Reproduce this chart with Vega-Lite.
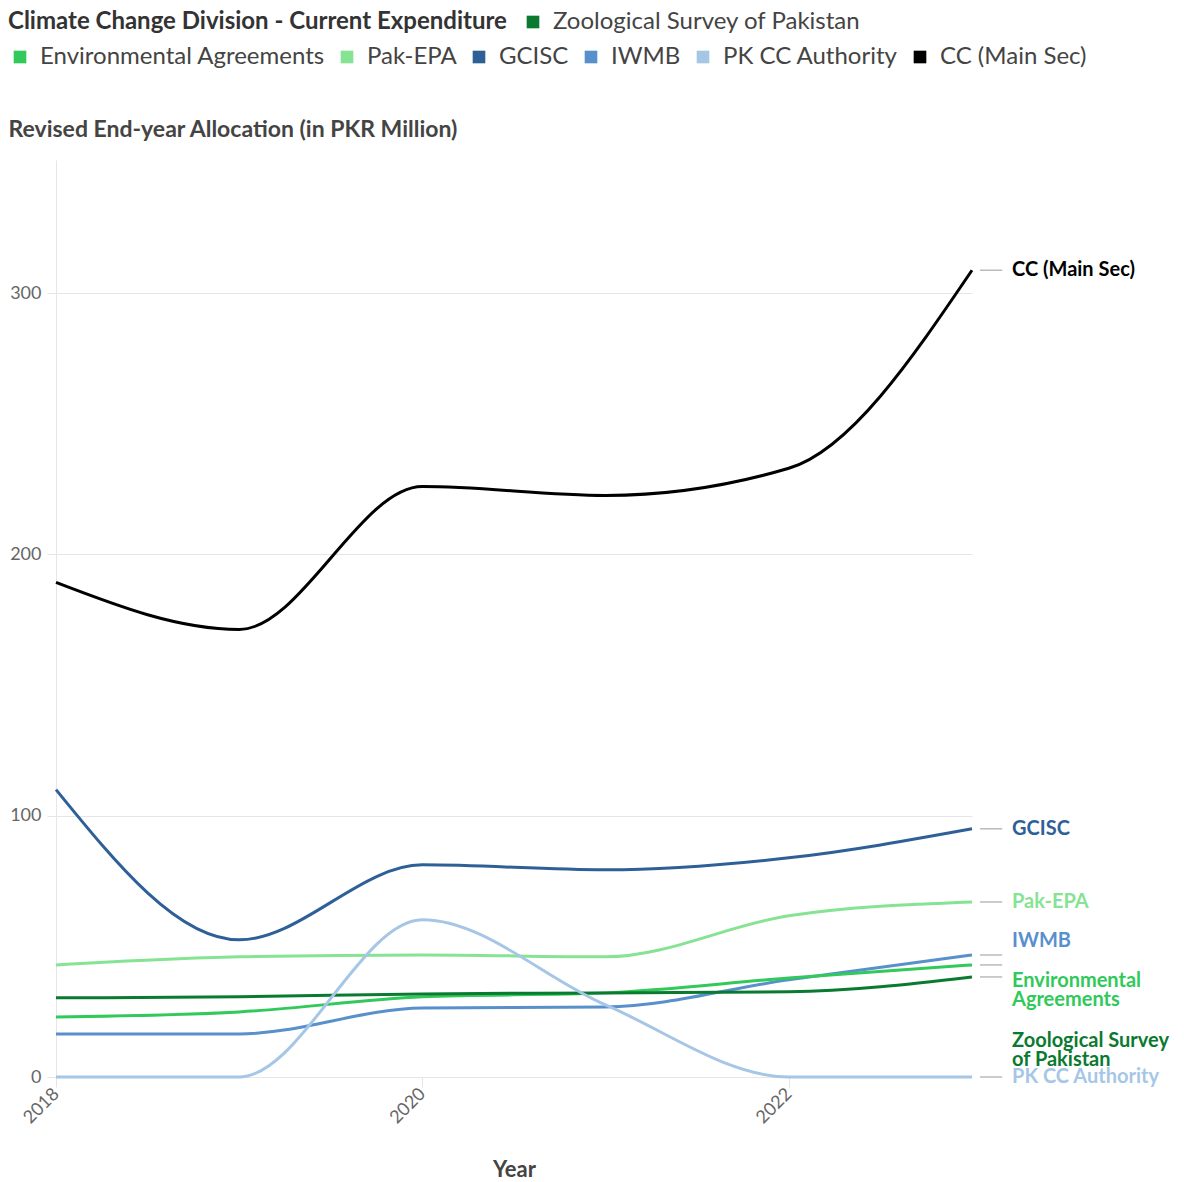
{
  "$schema": "https://vega.github.io/schema/vega-lite/v6.json",
  "width": 916,
  "height": 917,
  "autosize": {"type": "none"},
  "padding": {"left": 56, "top": 160, "right": 212, "bottom": 105},
  "background": "white",
  "config": {
    "font": "Lato",
    "view": {"stroke": null}
  },
  "data": {
    "values": [
      {"series": "CC (Main Sec)", "year": 2018, "value": 189.3},
      {"series": "CC (Main Sec)", "year": 2019, "value": 171.3},
      {"series": "CC (Main Sec)", "year": 2020, "value": 226},
      {"series": "CC (Main Sec)", "year": 2021, "value": 222.6},
      {"series": "CC (Main Sec)", "year": 2022, "value": 233},
      {"series": "CC (Main Sec)", "year": 2023, "value": 308.8},
      {"series": "GCISC", "year": 2018, "value": 110},
      {"series": "GCISC", "year": 2019, "value": 52.5},
      {"series": "GCISC", "year": 2020, "value": 81.2},
      {"series": "GCISC", "year": 2021, "value": 79.3},
      {"series": "GCISC", "year": 2022, "value": 83.9},
      {"series": "GCISC", "year": 2023, "value": 95},
      {"series": "Pak-EPA", "year": 2018, "value": 42.9},
      {"series": "Pak-EPA", "year": 2019, "value": 46},
      {"series": "Pak-EPA", "year": 2020, "value": 46.7},
      {"series": "Pak-EPA", "year": 2021, "value": 46},
      {"series": "Pak-EPA", "year": 2022, "value": 61.7},
      {"series": "Pak-EPA", "year": 2023, "value": 67},
      {"series": "IWMB", "year": 2018, "value": 16.5},
      {"series": "IWMB", "year": 2019, "value": 16.5},
      {"series": "IWMB", "year": 2020, "value": 26.4},
      {"series": "IWMB", "year": 2021, "value": 26.8},
      {"series": "IWMB", "year": 2022, "value": 37.2},
      {"series": "IWMB", "year": 2023, "value": 46.7},
      {"series": "Environmental Agreements", "year": 2018, "value": 23},
      {"series": "Environmental Agreements", "year": 2019, "value": 24.9},
      {"series": "Environmental Agreements", "year": 2020, "value": 30.7},
      {"series": "Environmental Agreements", "year": 2021, "value": 32.2},
      {"series": "Environmental Agreements", "year": 2022, "value": 37.9},
      {"series": "Environmental Agreements", "year": 2023, "value": 42.9},
      {"series": "Zoological Survey of Pakistan", "year": 2018, "value": 30.3},
      {"series": "Zoological Survey of Pakistan", "year": 2019, "value": 30.7},
      {"series": "Zoological Survey of Pakistan", "year": 2020, "value": 31.8},
      {"series": "Zoological Survey of Pakistan", "year": 2021, "value": 32.2},
      {"series": "Zoological Survey of Pakistan", "year": 2022, "value": 32.6},
      {"series": "Zoological Survey of Pakistan", "year": 2023, "value": 38.3},
      {"series": "PK CC Authority", "year": 2018, "value": 0},
      {"series": "PK CC Authority", "year": 2019, "value": 0},
      {"series": "PK CC Authority", "year": 2020, "value": 60.2},
      {"series": "PK CC Authority", "year": 2021, "value": 27.6},
      {"series": "PK CC Authority", "year": 2022, "value": 0},
      {"series": "PK CC Authority", "year": 2023, "value": 0}
    ]
  },
  "encoding": {
    "x": {
      "field": "year",
      "type": "quantitative",
      "scale": {"domain": [2018, 2023], "nice": false, "zero": false},
      "axis": {
        "values": [2018, 2020, 2022],
        "format": "d",
        "title": "Year",
        "domain": false,
        "grid": false,
        "ticks": true,
        "tickSize": 10,
        "tickColor": "#e4e4e4",
        "labelAngle": -45,
        "labelAlign": "right",
        "labelBaseline": "middle",
        "labelFontSize": 18,
        "labelColor": "#666666",
        "labelPadding": 4,
        "titleFontSize": 22,
        "titleFontWeight": "bold",
        "titleColor": "#444444",
        "titlePadding": 33
      }
    },
    "y": {
      "field": "value",
      "type": "quantitative",
      "scale": {"domain": [0, 351], "nice": false},
      "axis": {
        "values": [0, 100, 200, 300],
        "title": "Revised End-year Allocation (in PKR Million)",
        "titleAngle": 0,
        "titleAlign": "left",
        "titleBaseline": "alphabetic",
        "titleX": -48,
        "titleY": -24,
        "titleFontSize": 23,
        "titleFontWeight": "bold",
        "titleColor": "#444444",
        "domain": true,
        "domainColor": "#e6e6e6",
        "grid": true,
        "gridColor": "#e6e6e6",
        "tickSize": 9,
        "tickColor": "#e6e6e6",
        "labelFontSize": 18,
        "labelColor": "#666666",
        "labelPadding": 6
      }
    }
  },
  "layer": [
    {
      "mark": {"type": "line", "interpolate": "monotone", "strokeWidth": 3},
      "encoding": {
        "stroke": {
          "field": "series",
          "type": "nominal",
          "scale": {
            "domain": ["Zoological Survey of Pakistan", "Environmental Agreements", "Pak-EPA", "GCISC", "IWMB", "PK CC Authority", "CC (Main Sec)"],
            "range": ["#0a7a30", "#30c95a", "#86e394", "#2e6097", "#5890cc", "#a6c6e6", "#000000"]
          },
          "legend": null
        }
      }
    },
    {
      "transform": [{"filter": "datum.year == 2023"}],
      "mark": {"type": "rule", "color": "#bbbbbb", "strokeWidth": 1.5},
      "encoding": {
        "x": {"datum": 2023.044},
        "x2": {"datum": 2023.165}
      }
    },
    {
      "transform": [{"filter": "datum.year == 2023 && (datum.series == 'CC (Main Sec)' || datum.series == 'GCISC' || datum.series == 'Pak-EPA' || datum.series == 'PK CC Authority')"}],
      "mark": {"type": "text", "align": "left", "baseline": "middle", "dx": 40, "fontSize": 20, "fontWeight": "bold"},
      "encoding": {
        "text": {"field": "series"},
        "fill": {
          "field": "series",
          "type": "nominal",
          "scale": {
            "domain": ["Environmental Agreements", "Pak-EPA", "GCISC", "IWMB", "PK CC Authority", "CC (Main Sec)"],
            "range": ["#30c95a", "#86e394", "#2e6097", "#5890cc", "#a6c6e6", "#000000"]
          },
          "legend": {
            "title": null,
            "orient": "none",
            "legendX": -48,
            "legendY": -115,
            "direction": "horizontal",
            "columnPadding": 10,
            "labelFontSize": 24,
            "labelColor": "#444444",
            "labelOffset": 8,
            "labelLimit": 1000,
            "symbolType": "square",
            "symbolSize": 160
          }
        }
      }
    },
    {
      "transform": [{"filter": "datum.year == 2023 && datum.series == 'IWMB'"}],
      "mark": {"type": "text", "align": "left", "baseline": "middle", "dx": 40, "dy": -14, "fontSize": 20, "fontWeight": "bold", "fill": "#5890cc"},
      "encoding": {
        "text": {"field": "series"}
      }
    },
    {
      "transform": [{"filter": "datum.year == 2023 && datum.series == 'Environmental Agreements'"}],
      "mark": {"type": "text", "align": "left", "baseline": "middle", "dx": 40, "dy": 16, "fontSize": 20, "fontWeight": "bold", "lineHeight": 19, "fill": "#30c95a", "text": ["Environmental", "Agreements"]},
      "encoding": {}
    },
    {
      "transform": [{"filter": "datum.year == 2023 && datum.series == 'Zoological Survey of Pakistan'"}],
      "mark": {"type": "text", "align": "left", "baseline": "middle", "dx": 40, "dy": 64, "fontSize": 20, "fontWeight": "bold", "lineHeight": 19, "text": ["Zoological Survey", "of Pakistan"]},
      "encoding": {
        "color": {
          "field": "series",
          "type": "nominal",
          "scale": {
            "domain": ["Zoological Survey of Pakistan"],
            "range": ["#0a7a30"]
          },
          "legend": {
            "title": "Climate Change Division - Current Expenditure",
            "titleOrient": "left",
            "titleFontSize": 24,
            "titleFontWeight": "bold",
            "titleColor": "#333333",
            "titlePadding": 14,
            "titleLimit": 1000,
            "orient": "none",
            "legendX": -48,
            "legendY": -150,
            "labelFontSize": 24,
            "labelColor": "#444444",
            "labelOffset": 8,
            "labelLimit": 1000,
            "symbolType": "square",
            "symbolSize": 160
          }
        }
      }
    }
  ]
}
